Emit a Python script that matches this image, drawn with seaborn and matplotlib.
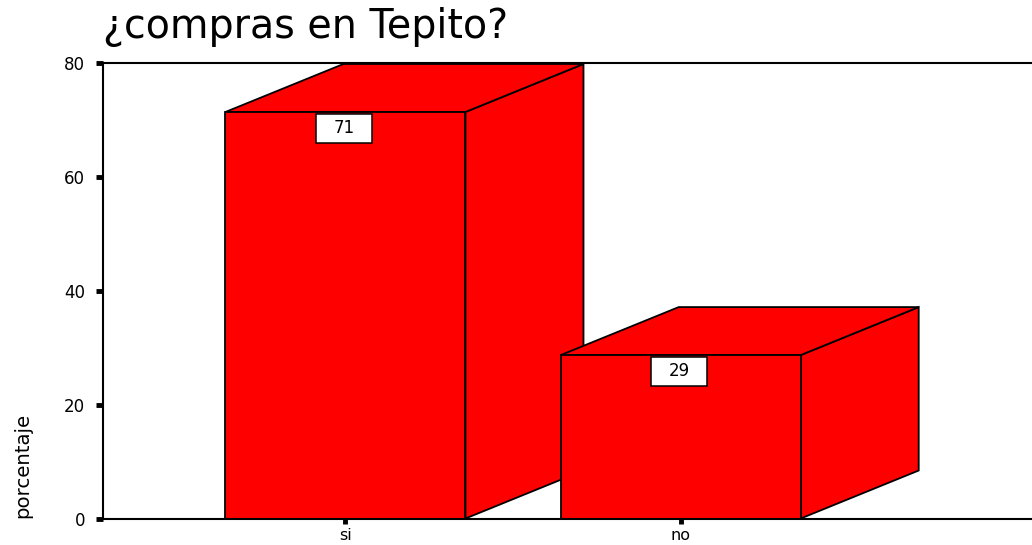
import matplotlib
matplotlib.use('Agg')
import matplotlib.pyplot as plt
import seaborn as sns
import pandas as pd
from matplotlib.patches import Polygon, Rectangle

categorias = ['si', 'no']
porcentajes = [71.4, 28.7]
etiquetas = ['71', '29']

sns.set_style('white')
plt.rcParams['font.family'] = ['DejaVu Sans']

df = pd.DataFrame({'respuesta': categorias, 'porcentaje': porcentajes})

fig = plt.figure(figsize=(10.32, 5.45), dpi=100)
ax = fig.add_axes([103 / 1032, 1 - 518.5 / 545, (1032 - 103) / 1032, 455.5 / 545])

sns.barplot(data=df, x='respuesta', y='porcentaje', color='#ff0000', saturation=1,
            width=0.716, edgecolor='black', linewidth=1.3, ax=ax, zorder=3)

ax.set_xlim(-0.7234, 2.048)
ax.set_ylim(0, 80)

# profundidad del efecto 3D
dx = 0.352
dy = 8.43

for i, bar in enumerate(ax.patches):
    x0 = bar.get_x()
    x1 = x0 + bar.get_width()
    h = bar.get_height()
    z = 3 + 2 * i
    bar.set_zorder(z + 1)
    lado = Polygon([(x1, 0), (x1 + dx, dy), (x1 + dx, h + dy), (x1, h)], closed=True,
                   facecolor='#ff0000', edgecolor='black', linewidth=1.3, zorder=z)
    techo = Polygon([(x0, h), (x0 + dx, h + dy), (x1 + dx, h + dy), (x1, h)], closed=True,
                    facecolor='#ff0000', edgecolor='black', linewidth=1.3, zorder=z)
    ax.add_patch(lado)
    ax.add_patch(techo)
    # cuadro del valor
    cx = x0 + bar.get_width() / 2
    ax.add_patch(Rectangle((cx - 0.0875, h - 5.4), 0.167, 5.1, facecolor='white',
                           edgecolor='black', linewidth=1.1, zorder=20))
    ax.text(cx - 0.004, h - 2.85, etiquetas[i], ha='center', va='center', fontsize=12,
            color='black', zorder=21)

ax.set_yticks([0, 20, 40, 60, 80])
for s in ['top', 'left', 'bottom']:
    ax.spines[s].set_visible(True)
    ax.spines[s].set_linewidth(1.5)
    ax.spines[s].set_color('black')
    ax.spines[s].set_zorder(30)
ax.spines['right'].set_visible(False)

ax.tick_params(axis='y', left=True, length=5, width=3.5, pad=8, labelsize=12,
               color='black', labelcolor='black')
ax.tick_params(axis='x', bottom=True, length=3.5, width=3.5, pad=3.2, labelsize=11.5,
               color='black', labelcolor='black')

ax.set_xlabel('')
ax.set_ylabel('')
fig.text(23 / 1032, 1 - 518 / 545, 'porcentaje', rotation=90, ha='center', va='bottom',
         fontsize=14.2, color='black')
fig.text(103 / 1032, 1 - 38 / 545, '¿compras en Tepito?', ha='left', va='baseline',
         fontsize=28.5, color='black')

fig.savefig('out.png', dpi=100)
